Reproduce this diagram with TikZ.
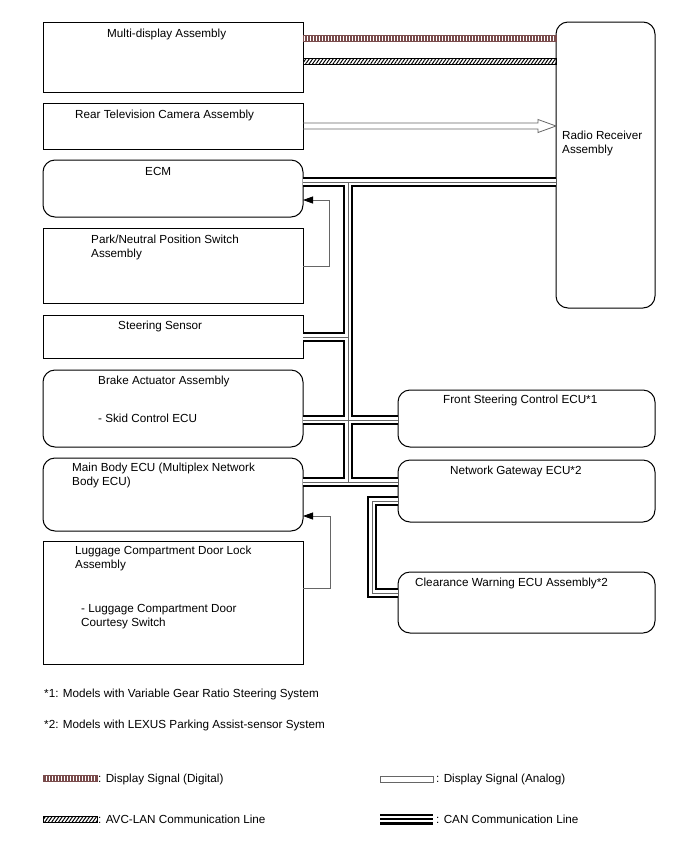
\documentclass[tikz,border=0pt]{standalone}
\usepackage{fontspec}
\setmainfont{Liberation Sans}
\usetikzlibrary{calc,arrows.meta,patterns.meta}
\definecolor{digc}{rgb}{0.48,0.30,0.30}
\definecolor{sigc}{rgb}{0.40,0.40,0.40}

\begin{document}
\begin{tikzpicture}[x=1pt,y=-1pt,
  blk/.style={draw=black, line width=1pt, inner sep=0pt, outer sep=0pt},
  rblk/.style={blk, rounded corners=12pt},
  lbl/.style={anchor=base west, inner sep=0pt, font=\fontsize{11.7}{14}\selectfont},
  digital/.style={draw=digc, line width=0.6pt, pattern={Lines[angle=90,distance=3pt,line width=1.3pt]}, pattern color=digc},
  avclan/.style={draw=black, line width=0.6pt, pattern={Lines[angle=55,distance=2.8pt,line width=1pt]}, pattern color=black},
  analog/.style={draw=sigc, line width=0.8pt, line join=miter},
  sig/.style={draw=sigc, line width=0.8pt, -{Triangle[length=10pt,width=7pt,color=black]}}]
\useasboundingbox (0,0) rectangle (688,852);

\node[blk, minimum width=260, minimum height=70] (mda) at (173,57) {};
\node[blk, minimum width=260, minimum height=46] (rtc) at (173,126) {};
\node[rblk, minimum width=260, minimum height=57] (ecm) at (173,188.5) {};
\node[blk, minimum width=260, minimum height=75] (pns) at (173,265.5) {};
\node[blk, minimum width=260, minimum height=43] (sts) at (173,336.5) {};
\node[rblk, minimum width=260, minimum height=77] (bra) at (173,408.5) {};
\node[rblk, minimum width=260, minimum height=73] (mbe) at (173,494.5) {};
\node[blk, minimum width=260, minimum height=123] (lug) at (173,602.5) {};
\node[rblk, minimum width=99, minimum height=286] (rad) at (605.5,165) {};
\node[rblk, minimum width=257, minimum height=57] (fsc) at (526.5,418.5) {};
\node[rblk, minimum width=257, minimum height=62] (ngw) at (526.5,491) {};
\node[rblk, minimum width=257, minimum height=61] (cwe) at (526.5,602.5) {};

\node[lbl] (mdaT) at (107,37) {Multi-display Assembly};
\node[lbl] (rtcT) at (75,118) {Rear Television Camera Assembly};
\node[lbl] (ecmT) at (145,175) {ECM};
\node[lbl] (pnsT1) at (91,243) {Park/Neutral Position Switch};
\node[lbl] (pnsT2) at (91,257) {Assembly};
\node[lbl] (stsT) at (118,329) {Steering Sensor};
\node[lbl] (braT1) at (98,384) {Brake Actuator Assembly};
\node[lbl] (braT2) at (98,422) {- Skid Control ECU};
\node[lbl] (mbeT1) at (72,471) {Main Body ECU (Multiplex Network};
\node[lbl] (mbeT2) at (72,485) {Body ECU)};
\node[lbl] (lugT1) at (75,554) {Luggage Compartment Door Lock};
\node[lbl] (lugT2) at (75,568) {Assembly};
\node[lbl] (lugT3) at (81,612) {- Luggage Compartment Door};
\node[lbl] (lugT4) at (81,626) {Courtesy Switch};
\node[lbl] (radT1) at (562,139) {Radio Receiver};
\node[lbl] (radT2) at (562,153) {Assembly};
\node[lbl] (fscT) at (443,403) {Front Steering Control ECU*1};
\node[lbl] (ngwT) at (450,474) {Network Gateway ECU*2};
\node[lbl] (cweT) at (415,586) {Clearance Warning ECU Assembly*2};

\node[lbl] (note1) at (44,697) {*1: Models with Variable Gear Ratio Steering System};
\node[lbl] (note2) at (44,728) {*2: Models with LEXUS Parking Assist-sensor System};

\coordinate (dig) at (0,38);
\coordinate (avc) at (0,61);
\coordinate (ana) at (0,126);
\coordinate (busTop) at (348,182);
\coordinate (busSt) at (348,337);
\coordinate (busFs) at (348,420);
\coordinate (busBot) at (348,482);
\coordinate (gwA) at (372,501);
\coordinate (gwB) at (372,593);
\coordinate (pnA) at (329,266);
\coordinate (pnB) at (329,200);
\coordinate (lgA) at (330,588);
\coordinate (lgB) at (330,516);

\draw[digital] ($(mda.east |- dig)+(0,-3)$) rectangle ($(rad.west |- dig)+(0,3)$);
\draw[avclan] ($(mda.east |- avc)+(0,-3)$) rectangle ($(rad.west |- avc)+(0,3)$);
\draw[analog] ($(rtc.east |- ana)+(0,-3)$) -- ($(rad.west |- ana)+(-18,-3)$) -- ++(0,-3.5)
  -- (rad.west |- ana) -- ++(-18,6.5) -- ++(0,-3.5) -- ($(rtc.east |- ana)+(0,3)$);

\foreach \lw/\lc in {10/black,5.2/white,0.8/sigc}{
  \draw[line width=\lw pt, \lc] (ecm.east |- busTop) -- (rad.west |- busTop)
    (busTop) -- (busBot)
    (sts.east |- busSt) -- (busSt)
    (bra.east |- busFs) -- (fsc.west |- busFs)
    (mbe.east |- busBot) -- (ngw.west |- busBot)
    (ngw.west |- gwA) -- (gwA) -- (gwB) -- (cwe.west |- gwB);
}

\draw[sig] (pns.east |- pnA) -- (pnA) -- (pnB) -- (ecm.east |- pnB);
\draw[sig] (lug.east |- lgA) -- (lgA) -- (lgB) -- (mbe.east |- lgB);

\draw[digital] (43,775) rectangle (97,781);
\draw[avclan] (43,816) rectangle (97,822);
\draw[analog] (380,776) rectangle (433,782);
\foreach \lw/\lc in {11/black,6/white,1.4/black}{
  \draw[line width=\lw pt, \lc] (380,819) -- (433,819);
}
\node[lbl] (lgd1) at (98,782) {: Display Signal (Digital)};
\node[lbl] (lgd2) at (98,823) {: AVC-LAN Communication Line};
\node[lbl] (lgd3) at (436,782) {: Display Signal (Analog)};
\node[lbl] (lgd4) at (436,823) {: CAN Communication Line};
\end{tikzpicture}
\end{document}
